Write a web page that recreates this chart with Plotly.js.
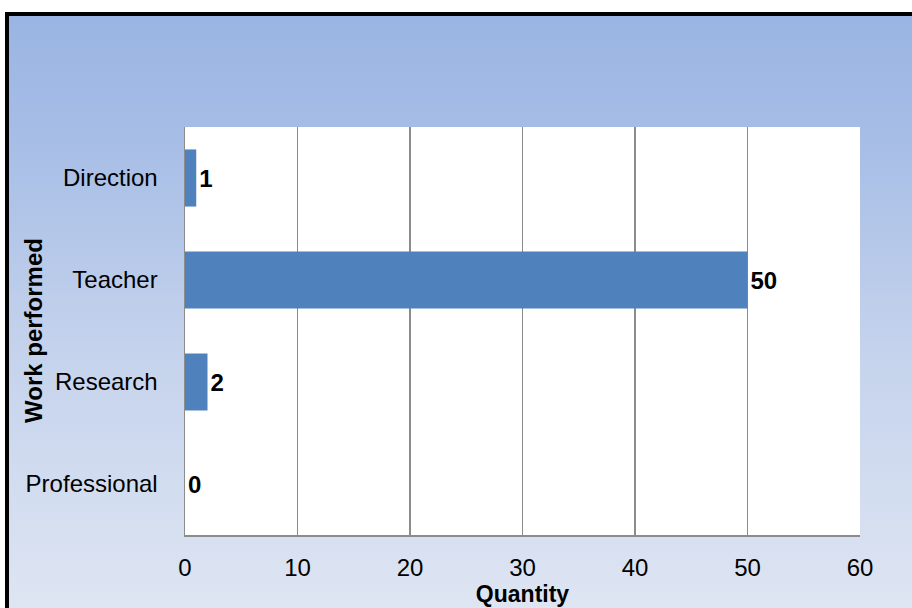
<!DOCTYPE html>
<html>
<head>
<meta charset="utf-8">
<script src="https://cdn.plot.ly/plotly-3.0.1.min.js"></script>
<style>
  html, body { margin:0; padding:0; background:#ffffff; overflow:hidden; }
  #frame { position:absolute; left:5px; top:12px; width:1000px; height:700px;
           border-top:4px solid #000; border-left:4px solid #000;
           background: linear-gradient(to bottom, #9ab5e3 0px, #a6bde6 120px, #c4d2ec 330px, #dfe6f3 600px, #e2e8f4 700px); }
  #chart { position:absolute; left:0; top:0; width:912px; height:608px; }
</style>
</head>
<body>
<div id="frame"></div>
<div id="chart"></div>
<script>
const categories = ["Professional", "Research", "Teacher", "Direction"];
const quantities = [0, 2, 50, 1];
const xTickValues = [0, 10, 20, 30, 40, 50, 60];
const xTitle = "Quantity";
const yTitle = "Work performed";

const fontFamily = "Liberation Sans, Arial, sans-serif";

const trace = {
  type: "bar",
  orientation: "h",
  y: categories,
  x: quantities,
  marker: { color: "#4f81bd" },
  width: 0.56,
  text: quantities.map(String),
  textposition: "outside",
  constraintext: "none",
  cliponaxis: false,
  textfont: { family: fontFamily, size: 24, color: "#000", weight: "bold" },
  outsidetextfont: { family: fontFamily, size: 24, color: "#000", weight: "bold" },
  hoverinfo: "none"
};

const layout = {
  width: 912, height: 608,
  margin: { l: 185, r: 52, t: 127, b: 73, pad: 0 },
  paper_bgcolor: "rgba(0,0,0,0)",
  plot_bgcolor: "#ffffff",
  showlegend: false,
  font: { family: fontFamily, size: 24, color: "#000" },
  xaxis: {
    range: [0, 60],
    tickvals: xTickValues,
    ticktext: xTickValues.map(String),
    showgrid: true, gridcolor: "#8c8c8c", gridwidth: 1.3,
    zeroline: false,
    showline: true, linecolor: "#8c8c8c", linewidth: 1.5,
    ticks: "", ticklabelstandoff: 11,
    tickfont: { family: fontFamily, size: 24, color: "#000" },
    title: { text: "<b>" + xTitle + "</b>", font: { family: fontFamily, size: 23, color: "#000" }, standoff: 0 }
  },
  yaxis: {
    categoryorder: "array", categoryarray: categories,
    showgrid: false, zeroline: false,
    showline: true, linecolor: "#8c8c8c", linewidth: 1.5,
    ticks: "", ticklabelstandoff: 21,
    tickfont: { family: fontFamily, size: 24, color: "#000" }
  },
  annotations: [{
    text: "<b>" + yTitle + "</b>",
    xref: "paper", yref: "paper", x: 0, y: 0.5,
    xanchor: "center", yanchor: "middle",
    xshift: -152, textangle: -90, showarrow: false,
    font: { family: fontFamily, size: 24, color: "#000" }
  }]
};

Plotly.newPlot("chart", [trace], layout, { displayModeBar: false, staticPlot: true });
</script>
</body>
</html>
